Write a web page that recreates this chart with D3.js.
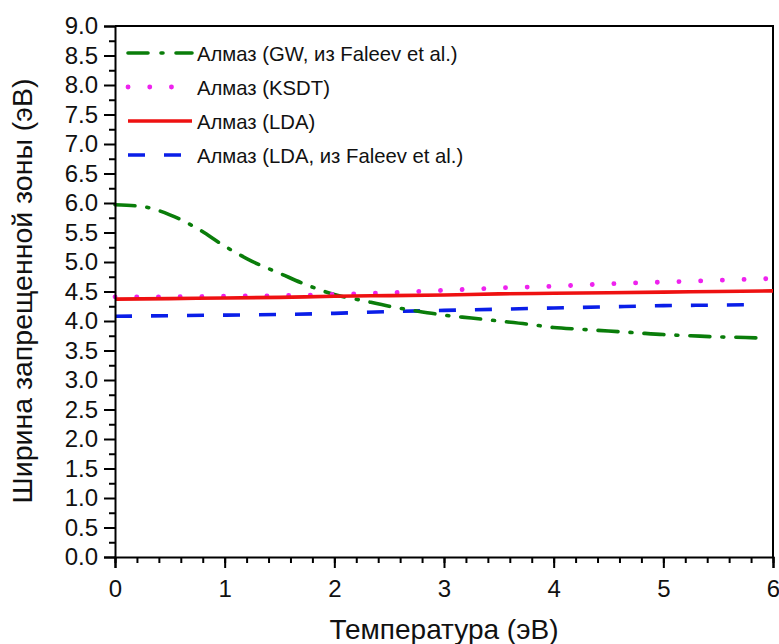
<!DOCTYPE html>
<html>
<head>
<meta charset="utf-8">
<script src="https://cdn.jsdelivr.net/npm/d3@7"></script>
<style>
  body { margin: 0; background: #fff; }
  svg { font-family: "Liberation Sans", Arial, sans-serif; }
</style>
</head>
<body>
<svg id="chart" width="779" height="644"></svg>
<script>
// temperature grids (eV)
const xGW = [0, 0.25, 0.5, 0.75, 1, 1.25, 1.5, 1.75, 2, 2.25, 2.5, 2.75, 3, 3.25, 3.5, 3.75, 4, 4.25, 4.5, 4.75, 5, 5.25, 5.5, 5.75, 5.9];
const gwGap = [5.97, 5.94, 5.80, 5.57, 5.27, 5.01, 4.81, 4.61, 4.45, 4.35, 4.25, 4.17, 4.10, 4.05, 4.00, 3.95, 3.89, 3.86, 3.83, 3.80, 3.77, 3.75, 3.73, 3.72, 3.71];
const xHalf = [0, 0.5, 1, 1.5, 2, 2.5, 3, 3.5, 4, 4.5, 5, 5.5, 6];
const ksdtGap = [4.41, 4.41, 4.42, 4.43, 4.45, 4.48, 4.52, 4.56, 4.59, 4.63, 4.66, 4.69, 4.72];
const ldaGap = [4.37, 4.38, 4.39, 4.40, 4.42, 4.43, 4.44, 4.46, 4.47, 4.48, 4.49, 4.50, 4.51];
const xLdaF = [0, 0.5, 1, 1.5, 2, 2.5, 3, 3.5, 4, 4.5, 5, 5.5, 5.9];
const ldaFaleevGap = [4.08, 4.09, 4.10, 4.11, 4.13, 4.16, 4.18, 4.20, 4.22, 4.24, 4.26, 4.27, 4.28];

const seriesNames = [
    "Алмаз (GW, из Faleev et al.)",
    "Алмаз (KSDT)",
    "Алмаз (LDA)",
    "Алмаз (LDA, из Faleev et al.)"
];
const xTicks = [0, 1, 2, 3, 4, 5, 6];
const yTicks = d3.range(0, 9.01, 0.5);

const svg = d3.select("#chart"),
      margin = { top: 26, right: 6, bottom: 87, left: 115 },
      width = +svg.attr("width") - margin.left - margin.right,
      height = +svg.attr("height") - margin.top - margin.bottom;

const g = svg.append("g")
    .attr("transform", `translate(${margin.left},${margin.top})`);

const x = d3.scaleLinear().domain([0, 6]).range([0, width]);
const y = d3.scaleLinear().domain([0, 9]).range([height, 0]);

const series = [
    { name: seriesNames[0], xs: xGW, ys: gwGap, color: "#0a7d0a", dash: "20,12,2,12", cap: "round" },
    { name: seriesNames[1], xs: xHalf, ys: ksdtGap, color: "#ee22ee", dash: "0.1,21.6", cap: "round" },
    { name: seriesNames[2], xs: xHalf, ys: ldaGap, color: "#ee1111", dash: null, cap: "butt" },
    { name: seriesNames[3], xs: xLdaF, ys: ldaFaleevGap, color: "#0a1ee8", dash: "17,19", cap: "butt" }
];

// frame (top + right)
g.append("path")
    .attr("d", `M0,0H${width}V${height}`)
    .attr("fill", "none")
    .attr("stroke", "#000")
    .attr("stroke-width", 2);

const line = d3.line()
    .x(d => x(d[0]))
    .y(d => y(d[1]))
    .curve(d3.curveMonotoneX);

// draw order: blue, green, magenta, red on top
[3, 0, 1, 2].forEach(i => {
    const s = series[i];
    g.append("path")
        .datum(s.xs.map((v, k) => [v, s.ys[k]]))
        .attr("fill", "none")
        .attr("stroke", s.color)
        .attr("stroke-width", i === 1 ? 4.8 : 3.6)
        .attr("stroke-linecap", s.cap)
        .attr("stroke-dasharray", s.dash)
        .attr("d", line);
});

// X axis
g.append("g")
    .attr("transform", `translate(0,${height})`)
    .call(d3.axisBottom(x).tickValues(xTicks).tickSize(11).tickPadding(12).tickFormat(d3.format("d")));
g.append("g")
    .attr("transform", `translate(0,${height})`)
    .call(d3.axisBottom(x).tickValues(d3.range(0, 6.01, 0.2)).tickSize(6).tickFormat(""))
    .select(".domain").remove();

// Y axis
g.append("g")
    .call(d3.axisLeft(y).tickValues(yTicks).tickSize(11).tickPadding(6).tickFormat(d3.format(".1f")));
g.append("g")
    .call(d3.axisLeft(y).tickValues(d3.range(0.25, 9, 0.5)).tickSize(6).tickFormat(""))
    .select(".domain").remove();

g.selectAll(".domain").attr("stroke-width", 2);
g.selectAll(".tick line").attr("stroke-width", 2);
g.selectAll(".tick text")
    .attr("font-size", "24px")
    .attr("font-family", "'Liberation Sans', Arial, sans-serif")
    .attr("fill", "#111");

// Axis titles
g.append("text")
    .attr("x", width / 2)
    .attr("y", height + 82)
    .attr("text-anchor", "middle")
    .attr("font-size", "28px")
    .attr("fill", "#111")
    .text("Температура (эВ)");

g.append("text")
    .attr("transform", "rotate(-90)")
    .attr("x", -(291 - margin.top))
    .attr("y", -83)
    .attr("text-anchor", "middle")
    .attr("font-size", "28.5px")
    .attr("fill", "#111")
    .text("Ширина запрещенной зоны (эВ)");

// Legend
const legend = g.append("g").attr("transform", "translate(13,27)");
series.forEach((s, i) => {
    const row = legend.append("g").attr("transform", `translate(0,${i * 34})`);
    row.append("line")
        .attr("x1", 0).attr("x2", 64)
        .attr("y1", 0).attr("y2", 0)
        .attr("stroke", s.color)
        .attr("stroke-width", i === 1 ? 4.8 : 3.6)
        .attr("stroke-linecap", s.cap)
        .attr("stroke-dasharray", i === 0 ? "20,13,2,13" : s.dash);
    row.append("text")
        .attr("x", 69)
        .attr("y", 7.5)
        .attr("font-size", "20.3px")
        .attr("fill", "#111")
        .text(s.name);
});
</script>
</body>
</html>
